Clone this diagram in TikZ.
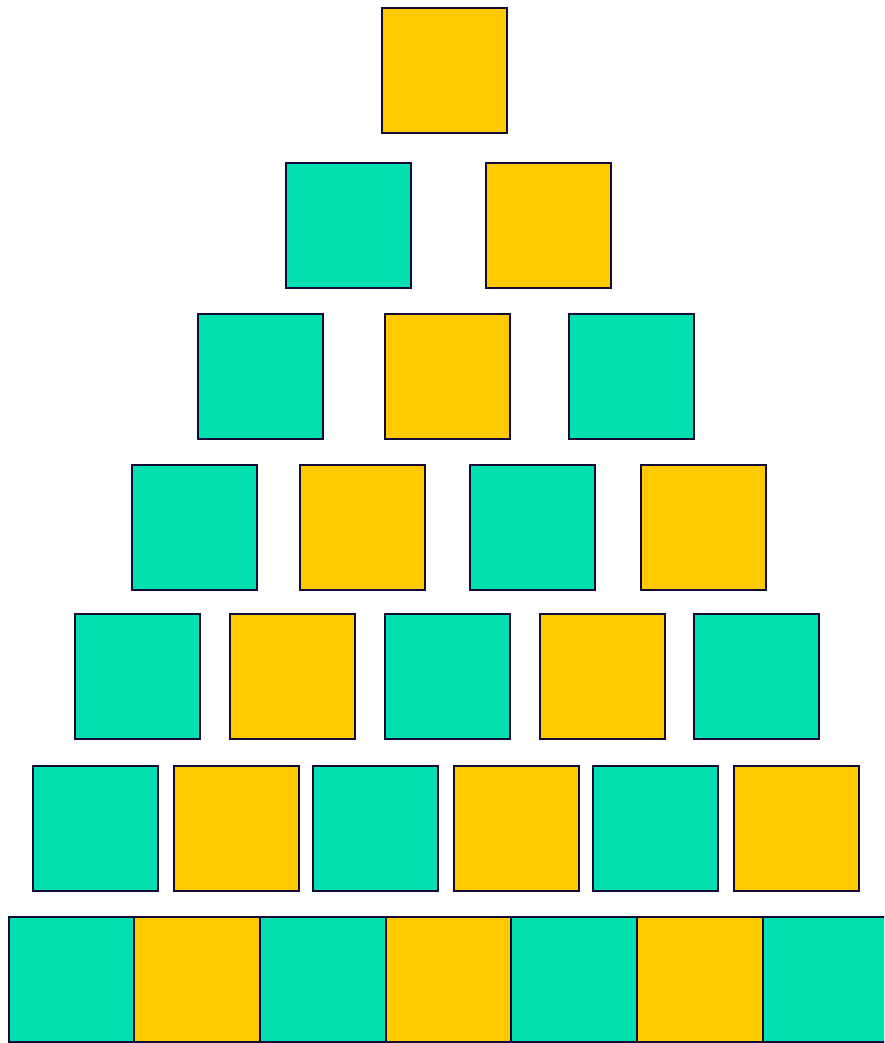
\documentclass[tikz,border=0pt]{standalone}
\usepackage{tikz}
\definecolor{ink}{HTML}{140A3A}
\definecolor{mint}{HTML}{03E0AF}
\definecolor{gold}{HTML}{FFCA00}
\tikzset{tile/.style={draw=ink, line width=2pt, minimum size=125pt, inner sep=0pt, outer sep=0pt},
  gtile/.style={tile, fill=mint}, ytile/.style={tile, fill=gold}}

\begin{document}
\begin{tikzpicture}[x=1pt, y=-1pt]
  \useasboundingbox (0,0) rectangle (884,1043);
  \clip (0,0) rectangle (884,1043);
  \node[ytile] (r1-1) at (444.5,70.5) {};
  \foreach[count=\i] \x/\s in {348/gtile, 548.5/ytile} {\node[\s] (r2-\i) at (\x,225.5) {};}
  \foreach[count=\i] \x/\s in {260/gtile, 447/ytile, 631/gtile} {\node[\s] (r3-\i) at (\x,376) {};}
  \foreach[count=\i] \x/\s in {194/gtile, 362/ytile, 532/gtile, 703/ytile} {\node[\s] (r4-\i) at (\x,527) {};}
  \foreach[count=\i] \x/\s in {137.5/gtile, 292/ytile, 447/gtile, 602/ytile, 756/gtile} {\node[\s] (r5-\i) at (\x,676) {};}
  \foreach[count=\i] \x/\s in {95/gtile, 236/ytile, 375/gtile, 516/ytile, 655/gtile, 796/ytile} {\node[\s] (r6-\i) at (\x,828.5) {};}
  \foreach[count=\i] \s in {gtile, ytile, gtile, ytile, gtile, ytile, gtile}
    {\node[\s, minimum width=125.7pt] (r7-\i) at ({8.5+125.7*(\i-0.5)},979.5) {};}
\end{tikzpicture}
\end{document}
